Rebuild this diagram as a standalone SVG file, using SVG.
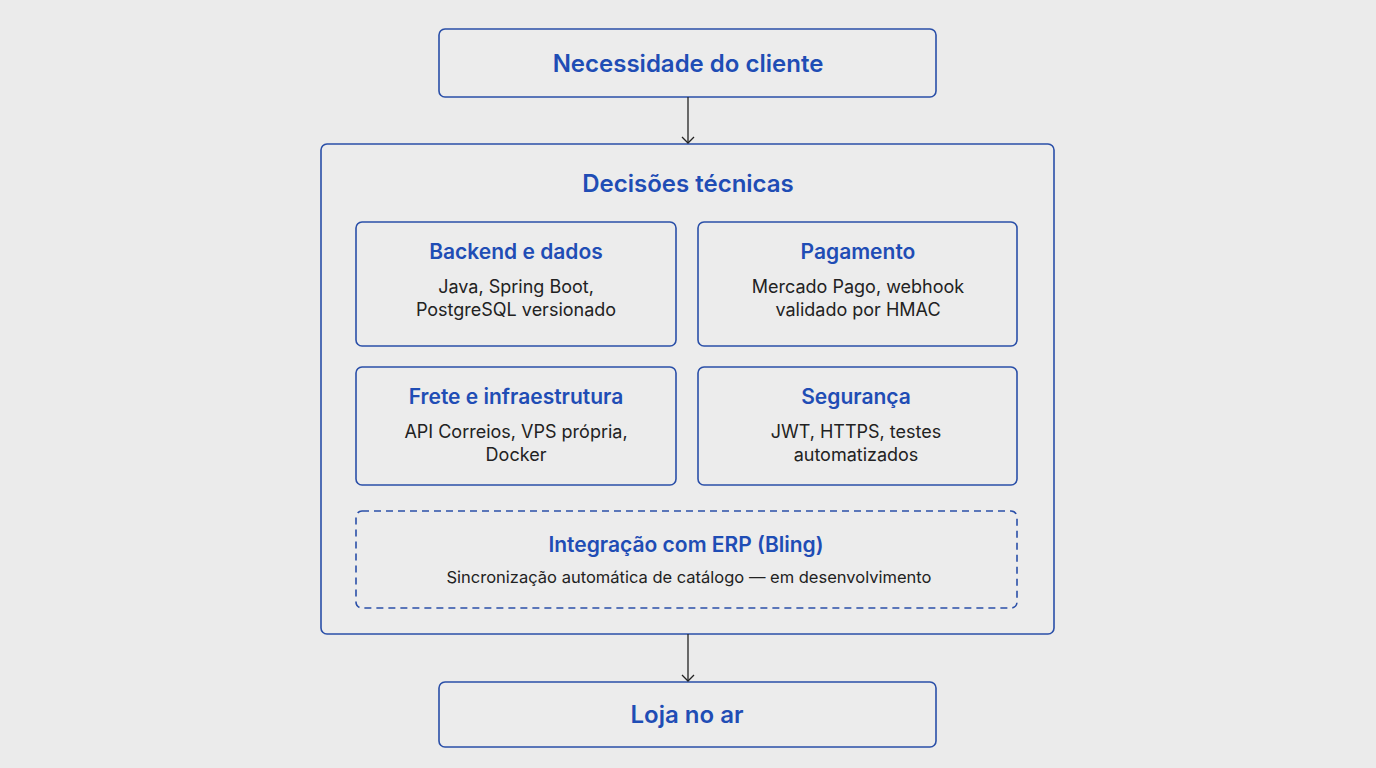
<svg xmlns="http://www.w3.org/2000/svg" width="1376" height="768" viewBox="0 0 1376 768">
<defs>
<style>
.box{fill:#ececec;stroke:#2a4fa8;stroke-width:1.6}
.t{font-family:Inter,"Liberation Sans",sans-serif;fill:#1f4db5;font-weight:600;text-anchor:middle}
.s{font-family:Inter,"Liberation Sans",sans-serif;fill:#222;font-size:18px;text-anchor:middle}
.c{stroke:#222;stroke-width:1.3;fill:none}
</style>
<marker id="a" markerWidth="10" markerHeight="14" refX="8" refY="7" orient="auto" markerUnits="userSpaceOnUse" viewBox="0 0 10 14"><path d="M2 1 L8 7 L2 13" fill="none" stroke="#222" stroke-width="1.3"/></marker>
</defs>
<rect width="1376" height="768" fill="#ebebeb"/>
<g id="necessidade"><rect class="box" x="439" y="29" width="497" height="68" rx="6"/><text class="t" x="688" y="72" font-size="24">Necessidade do cliente</text></g>
<g id="decisoes"><rect class="box" x="321" y="144" width="733" height="490" rx="6"/><text class="t" x="688" y="192" font-size="24">Decisões técnicas</text></g>
<g id="backend"><rect class="box" x="356" y="222" width="320" height="124" rx="6"/><text class="t" x="516" y="259" font-size="21">Backend e dados</text><text class="s" x="516" y="293">Java, Spring Boot,</text><text class="s" x="516" y="316">PostgreSQL versionado</text></g>
<g id="pagamento"><rect class="box" x="698" y="222" width="319" height="124" rx="6"/><text class="t" x="858" y="259" font-size="21">Pagamento</text><text class="s" x="858" y="293">Mercado Pago, webhook</text><text class="s" x="858" y="316">validado por HMAC</text></g>
<g id="frete"><rect class="box" x="356" y="367" width="320" height="118" rx="6"/><text class="t" x="516" y="404" font-size="21">Frete e infraestrutura</text><text class="s" x="516" y="438">API Correios, VPS própria,</text><text class="s" x="516" y="461">Docker</text></g>
<g id="seguranca"><rect class="box" x="698" y="367" width="319" height="118" rx="6"/><text class="t" x="856" y="404" font-size="21">Segurança</text><text class="s" x="856" y="438">JWT, HTTPS, testes</text><text class="s" x="856" y="461">automatizados</text></g>
<g id="erp"><rect class="box" x="356" y="511" width="661" height="97" rx="6" stroke-dasharray="7 5"/><text class="t" x="686" y="552" font-size="21">Integração com ERP (Bling)</text><text class="s" x="689" y="583" font-size="16.5" style="font-size:16.5px">Sincronização automática de catálogo — em desenvolvimento</text></g>
<g id="loja"><rect class="box" x="439" y="682" width="497" height="65" rx="6"/><text class="t" x="687" y="723" font-size="24">Loja no ar</text></g>
<g id="connectors"><line class="c" x1="688" y1="97" x2="688" y2="143" marker-end="url(#a)"/><line class="c" x1="688" y1="634" x2="688" y2="681" marker-end="url(#a)"/></g>
</svg>
